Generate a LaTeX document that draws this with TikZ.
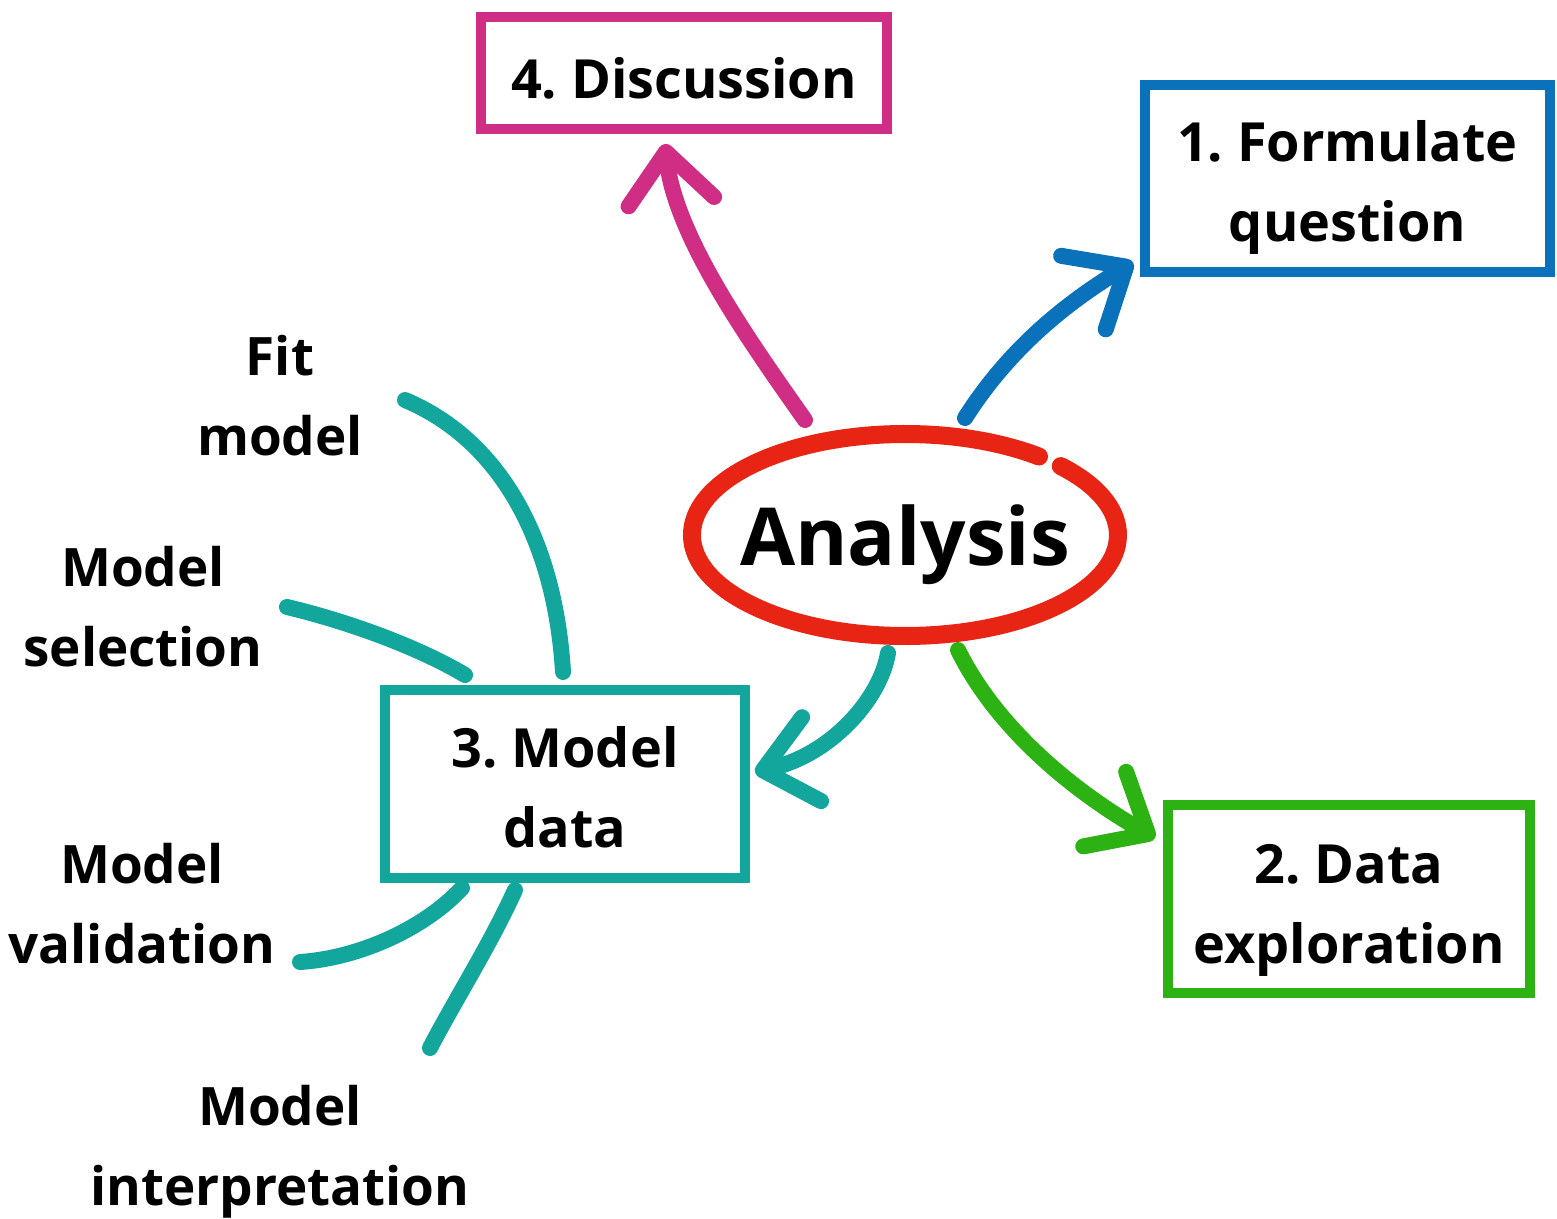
\documentclass[tikz,border=0pt]{standalone}
\usepackage{fontspec}
\setmainfont{Open Sans}
\usetikzlibrary{arrows.meta,shapes.geometric}
\definecolor{cmag}{RGB}{208,46,133}
\definecolor{cblue}{RGB}{10,114,186}
\definecolor{cred}{RGB}{232,36,20}
\definecolor{cteal}{RGB}{18,166,157}
\definecolor{cgreen}{RGB}{44,178,18}
\newcommand\lowerby[1]{\rule{0pt}{#1}}
\begin{document}
\begin{tikzpicture}[x=1pt,y=1pt,
  box/.style={draw, line width=10pt, rectangle, align=center, inner sep=0pt,
    font=\fontsize{54}{80}\selectfont\bfseries},
  lbl/.style={align=center, font=\fontsize{53}{80}\selectfont\bfseries},
  conn/.style={line width=16pt, line cap=round},
  arr/.style={conn, -{Straight Barb[length=50pt,width=86pt,round]}},
]
\useasboundingbox (0,0) rectangle (1557,-1218);
\fill[white] (0,0) rectangle (1557,-1218);

% boxes
\node[box, draw=cmag, minimum width=406pt, minimum height=112pt] (disc) at (684,-73) {\lowerby{51pt}4.~Discussion};
\node[box, draw=cblue, minimum width=405pt, minimum height=187pt] (fq) at (1347.5,-178.5) {\lowerby{59pt}1.~Formulate\\question};
\node[box, draw=cteal, minimum width=360pt, minimum height=188pt] (md) at (565,-784) {\lowerby{47pt}3.~Model\\data};
\node[box, draw=cgreen, minimum width=362pt, minimum height=188pt] (de) at (1349,-899) {\lowerby{61pt}2.~Data\\exploration};

% central ellipse
\node[ellipse, minimum width=426pt, minimum height=202pt, inner sep=0pt, outer sep=9pt,
  text depth=0pt, font=\fontsize{80}{96}\selectfont\bfseries] (an) at (905,-535) {Analysis};
\draw[cred, line width=18pt, line cap=round] ([shift={(134,78.5)}]an.center)
  arc[start angle=51, end angle=403, x radius=213pt, y radius=101pt];

% labels
\node[lbl] (fit) at (280,-396) {Fit\\model};
\node[lbl] (sel) at (143,-607) {Model\\selection};
\node[lbl] (val) at (142,-904) {Model\\validation};
\node[lbl] (int) at (280,-1152) {Model\\interpretation};

% free ends of the sub-task strokes
\coordinate (fitend) at (405,-400);
\coordinate (selend) at (287,-607);
\coordinate (valend) at (300,-962);
\coordinate (intend) at (430,-1048);

% arrows from Analysis
\draw[arr, draw=cmag] ([shift={(-100,115)}]an.center) .. controls (745,-335) and (675,-235) .. ([shift={(-19,-10)}]disc.south);
\draw[arr, draw=cblue] ([shift={(60,117)}]an.center) .. controls (1005,-355) and (1058,-308) .. ([shift={(-7,-84)}]fq.west);
\draw[arr, draw=cteal] ([shift={(-17,-118)}]an.center) .. controls (880,-700) and (830,-755) .. ([shift={(5,12)}]md.east);
\draw[arr, draw=cgreen] ([shift={(53,-115)}]an.center) .. controls (995,-725) and (1068,-788) .. ([shift={(-8,61)}]de.west);

% sub-task strokes
\draw[conn, cteal] ([shift={(-2,13)}]md.north) .. controls (555,-540) and (500,-440) .. (fitend);
\draw[conn, cteal] ([shift={(-100,10)}]md.north) .. controls (420,-648) and (350,-622) .. (selend);
\draw[conn, cteal] ([shift={(-103,-5)}]md.south) .. controls (425,-928) and (360,-958) .. (valend);
\draw[conn, cteal] ([shift={(-50,-7)}]md.south) .. controls (490,-945) and (455,-1000) .. (intend);
\end{tikzpicture}
\end{document}
